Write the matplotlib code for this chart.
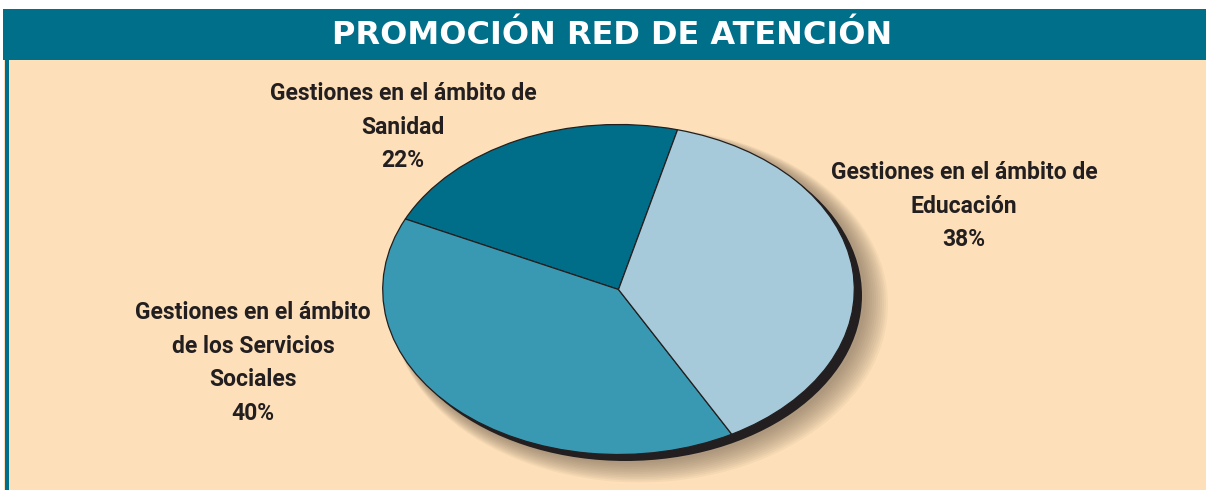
import matplotlib.pyplot as plt
from matplotlib.patches import Ellipse, Rectangle

# datos
categorias = ['Sanidad', 'Servicios Sociales', 'Educación']
porcentajes = [22, 40, 38]
colores = ['#006E89', '#3A99B2', '#A6CAD9']
etiquetas = ['Gestiones en el ámbito de\nSanidad\n22%',
             'Gestiones en el ámbito\nde los Servicios\nSociales\n40%',
             'Gestiones en el ámbito de\nEducación\n38%']
titulo = 'PROMOCIÓN RED DE ATENCIÓN'

W, H = 1206, 490
fig = plt.figure(figsize=(W / 100, H / 100), dpi=100)
fig.patch.set_facecolor('white')

# fondo en coordenadas de pixel
bg = fig.add_axes([0, 0, 1, 1])
bg.set_xlim(0, W)
bg.set_ylim(H, 0)
bg.axis('off')
bg.add_patch(Rectangle((4, 59), W, H, facecolor='#FDE0B9', edgecolor='none'))
bg.add_patch(Rectangle((3, 9), W, 51, facecolor='#006F8A', edgecolor='none'))
bg.add_patch(Rectangle((5, 59), 4, H, facecolor='#006F8A', edgecolor='none'))
bg.text(612, 35, titulo, color='white', fontsize=23, fontweight='bold',
        ha='center', va='center', family=['DejaVu Sans'])

# elipse del pastel
cx, cy, a, b = 618.5, 289.5, 236.5, 165.5

# sombra difusa
for i in range(12, 0, -1):
    bg.add_patch(Ellipse((cx + 9 + i * 1.0, cy + 7 + i * 0.7), 2 * a + i * 2.0, 2 * b + i * 2.0,
                         facecolor='#6E5E50', edgecolor='none', alpha=0.06))
bg.add_patch(Ellipse((cx + 7, cy + 6), 2 * a, 2 * b, facecolor='#231F20', edgecolor='none'))

ax = fig.add_axes([(cx - a) / W, (H - (cy + b)) / H, 2 * a / W, 2 * b / H])
ax.pie(porcentajes, colors=colores, startangle=75.5, counterclock=True,
       wedgeprops=dict(edgecolor='#231F20', linewidth=0.9))
ax.set_aspect('auto')
ax.set_xlim(-1.003, 1.003)
ax.set_ylim(-1.003, 1.003)
ax.axis('off')

pos = [(403, 127), (253, 363), (964, 206)]
for (x, y), t in zip(pos, etiquetas):
    bg.text(x, y, t, color='#231F20', fontsize=16.5, fontweight='bold', family=['Roboto', 'DejaVu Sans'],
            ha='center', va='center', linespacing=1.6)

fig.savefig('out.png', dpi=100)
